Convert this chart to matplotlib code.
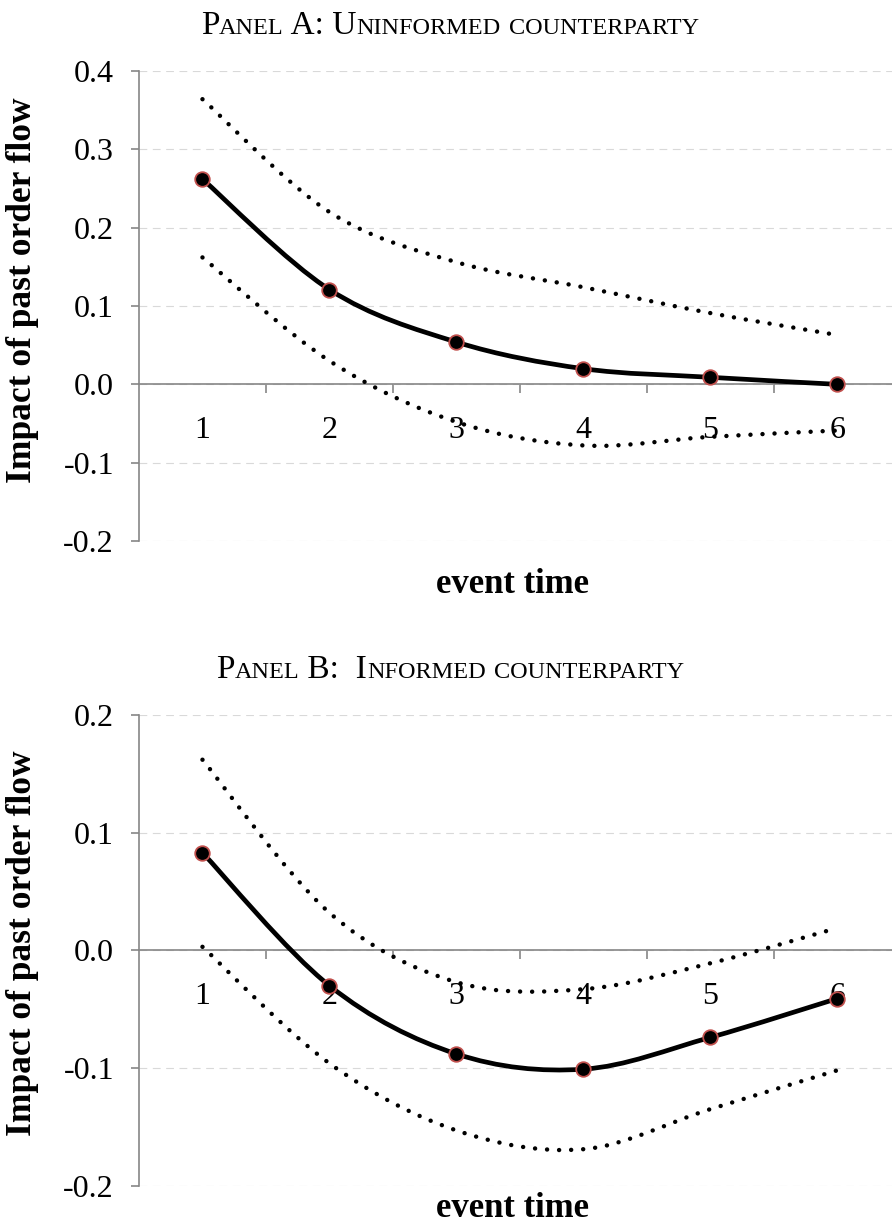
import matplotlib
matplotlib.use("Agg")
import matplotlib.pyplot as plt
from matplotlib.path import Path
from matplotlib.patches import PathPatch
from matplotlib.ticker import FormatStrFormatter, FixedLocator

plt.rcParams['font.family'] = ['Liberation Serif', 'DejaVu Serif']
plt.rcParams['axes.unicode_minus'] = False

# event time 1..6
periods = [1, 2, 3, 4, 5, 6]

# panel A: uninformed counterparty
a_est = [0.262, 0.121, 0.054, 0.020, 0.009, 0.000]
a_hi = [0.364, 0.220, 0.156, 0.124, 0.091, 0.063]
a_lo = [0.162, 0.030, -0.048, -0.078, -0.067, -0.059]

# panel B: informed counterparty
b_est = [0.083, -0.030, -0.088, -0.101, -0.074, -0.041]
b_hi = [0.162, 0.032, -0.027, -0.033, -0.011, 0.019]
b_lo = [0.003, -0.096, -0.153, -0.169, -0.135, -0.102]

GRAY = '#868686'
GRID = '#d9d9d9'


def smooth_path(xs, ys):
    # excel style smoothed line: cubic bezier with catmull-rom tangents
    pts = list(zip(xs, ys))
    n = len(pts)
    verts = [pts[0]]
    codes = [Path.MOVETO]
    for i in range(n - 1):
        p0 = pts[i - 1] if i > 0 else pts[i]
        p1 = pts[i]
        p2 = pts[i + 1]
        p3 = pts[i + 2] if i + 2 < n else pts[i + 1]
        c1 = (p1[0] + (p2[0] - p0[0]) / 6.0, p1[1] + (p2[1] - p0[1]) / 6.0)
        c2 = (p2[0] - (p3[0] - p1[0]) / 6.0, p2[1] - (p3[1] - p1[1]) / 6.0)
        verts += [c1, c2, p2]
        codes += [Path.CURVE4] * 3
    return Path(verts, codes)


def draw_panel(ax, est, hi, lo, ylim, yticks):
    ax.set_xlim(0.5, 6.5)
    ax.set_ylim(*ylim)
    ax.set_yticks(yticks)
    ax.yaxis.set_major_formatter(FormatStrFormatter('%.1f'))
    ax.grid(axis='y', color=GRID, linestyle=(0, (7, 5)), linewidth=0.8)
    ax.set_axisbelow(True)

    for sp in ['top', 'right']:
        ax.spines[sp].set_visible(False)
    ax.spines['left'].set_color(GRAY)
    ax.spines['left'].set_linewidth(1.2)
    ax.spines['bottom'].set_position(('data', 0))
    ax.spines['bottom'].set_color(GRAY)
    ax.spines['bottom'].set_linewidth(1.2)

    ax.xaxis.set_major_locator(FixedLocator(periods))
    ax.set_xticklabels([str(p) for p in periods])
    ax.xaxis.set_minor_locator(FixedLocator([1.5, 2.5, 3.5, 4.5, 5.5]))
    ax.tick_params(axis='x', which='major', length=0, pad=23, labelsize=23)
    ax.tick_params(axis='x', which='minor', length=6.5, width=1.2,
                   color=GRAY, direction='out')
    ax.tick_params(axis='y', which='major', length=6, width=1.2,
                   color=GRAY, pad=12, labelsize=23)

    for band in (hi, lo):
        ax.add_patch(PathPatch(smooth_path(periods, band), fill=False,
                               edgecolor='black', linewidth=3.2,
                               linestyle=(0, (0.01, 2.7)),
                               capstyle='round', zorder=3))
    ax.add_patch(PathPatch(smooth_path(periods, est), fill=False,
                           edgecolor='black', linewidth=3.4, zorder=4))
    ax.plot(periods, est, 'o', markersize=10.5, markerfacecolor='black',
            markeredgecolor='#c0504d', markeredgewidth=1.3, zorder=5,
            clip_on=False)

    ax.set_xlabel('event time', fontsize=25, fontweight='bold', va='center')
    ax.set_ylabel('Impact of past order flow', fontsize=25.5,
                  fontweight='bold', va='center')


def small_caps(fig, xc, y, parts, big=24, small=17.5):
    r = fig.canvas.get_renderer()
    texts = []
    for s, is_big in parts:
        t = fig.text(0, y, s, fontsize=big if is_big else small,
                     va='baseline', ha='left')
        texts.append(t)
    widths = [t.get_window_extent(r).width for t in texts]
    total = sum(widths)
    x = xc * fig.bbox.width - total / 2
    for t, w in zip(texts, widths):
        t.set_x(x / fig.bbox.width)
        x += w


fig = plt.figure(figsize=(8.92, 12.25), dpi=100)
W, H = 892.0, 1225.0
axA = fig.add_axes([139 / W, 1 - 541 / H, 761.6 / W, 470 / H])
axB = fig.add_axes([139 / W, 1 - 1185.7 / H, 761.6 / W, 470.7 / H])

draw_panel(axA, a_est, a_hi, a_lo, (-0.2, 0.4),
           [-0.2, -0.1, 0.0, 0.1, 0.2, 0.3, 0.4])
draw_panel(axB, b_est, b_hi, b_lo, (-0.2, 0.2),
           [-0.2, -0.1, 0.0, 0.1, 0.2])

axA.xaxis.set_label_coords(0.491, -0.0915)
axB.xaxis.set_label_coords(0.491, -0.048)
axA.yaxis.set_label_coords(-0.153, 0.534)
axB.yaxis.set_label_coords(-0.153, 0.515)

small_caps(fig, 450 / W, 1 - 34 / H,
           [('P', 1), ('ANEL', 0), (' A: U', 1), ('NINFORMED', 0),
            (' ', 1), ('COUNTERPARTY', 0)])
small_caps(fig, 450 / W, 1 - 678 / H,
           [('P', 1), ('ANEL', 0), (' B:  I', 1), ('NFORMED', 0),
            (' ', 1), ('COUNTERPARTY', 0)])

fig.savefig('out.png', dpi=100)
